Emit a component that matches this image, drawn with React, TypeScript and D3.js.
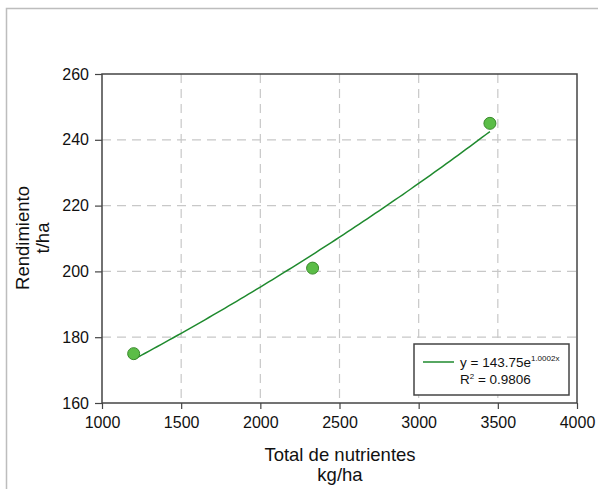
import React, { useEffect, useRef } from "react";
import * as d3 from "d3";

const nutrientes = [1200, 2330, 3450];
const rendimiento = [175, 201, 245];
const xTicks = [1000, 1500, 2000, 2500, 3000, 3500, 4000];
const yTicks = [160, 180, 200, 220, 240, 260];

const W = 598;
const H = 489;

export default function App() {
  const ref = useRef<SVGSVGElement>(null);

  useEffect(() => {
    const svg = d3.select(ref.current);
    svg.selectAll("*").remove();

    const margin = { top: 74, right: 21, bottom: 86, left: 102 };
    const x = d3.scaleLinear().domain([1000, 4000]).range([margin.left, W - margin.right]);
    const y = d3.scaleLinear().domain([160, 260]).range([H - margin.bottom, margin.top]);
    const font = "'Liberation Sans', Arial, sans-serif";

    // outer frame
    svg.append("rect")
      .attr("x", 6.5).attr("y", 8.5)
      .attr("width", W + 20).attr("height", H + 20)
      .attr("fill", "none").attr("stroke", "#bdbdbd").attr("stroke-width", 1.5);

    // grid
    svg.append("g").selectAll("line")
      .data(xTicks.slice(1, -1))
      .enter().append("line")
      .attr("x1", d => x(d)).attr("x2", d => x(d))
      .attr("y1", y(260)).attr("y2", y(160))
      .attr("stroke", "#c8c8c8").attr("stroke-dasharray", "9,6").attr("stroke-width", 1.2);
    svg.append("g").selectAll("line")
      .data(yTicks.slice(1, -1))
      .enter().append("line")
      .attr("x1", x(1000)).attr("x2", x(4000))
      .attr("y1", d => y(d)).attr("y2", d => y(d))
      .attr("stroke", "#c8c8c8").attr("stroke-dasharray", "9,6").attr("stroke-width", 1.2);

    // axes
    const xAxis = svg.append("g")
      .attr("transform", `translate(0, ${y(160)})`)
      .call(d3.axisBottom(x).tickValues(xTicks).tickFormat(d3.format("d")).tickSizeOuter(0).tickSize(6).tickPadding(8));
    const yAxis = svg.append("g")
      .attr("transform", `translate(${x(1000)}, 0)`)
      .call(d3.axisLeft(y).tickValues(yTicks).tickSizeOuter(0).tickSize(7).tickPadding(6));
    [xAxis, yAxis].forEach(a => {
      a.select(".domain").remove();
      a.selectAll("line").attr("stroke", "#444").attr("stroke-width", 1.2);
      a.selectAll("text").attr("font-family", font).attr("font-size", 16).attr("fill", "#111");
    });

    // plot frame
    svg.append("rect")
      .attr("x", x(1000)).attr("y", y(260))
      .attr("width", x(4000) - x(1000)).attr("height", y(160) - y(260))
      .attr("fill", "none").attr("stroke", "#444").attr("stroke-width", 1.5);

    // exponential fit through the points
    const lx = nutrientes;
    const ly = rendimiento.map(v => Math.log(v));
    const mx = d3.mean(lx)!;
    const my = d3.mean(ly)!;
    const b = d3.sum(lx, (v, i) => (v - mx) * (ly[i] - my)) / d3.sum(lx, v => (v - mx) ** 2);
    const a = Math.exp(my - b * mx);
    const fitX = d3.range(nutrientes[0], nutrientes[2] + 1, 25);
    const line = d3.line<number>().x(d => x(d)).y(d => y(a * Math.exp(b * d)));
    svg.append("path")
      .attr("d", line(fitX))
      .attr("fill", "none").attr("stroke", "#1f8a2e").attr("stroke-width", 1.5);

    // points
    svg.append("g").selectAll("circle")
      .data(nutrientes)
      .enter().append("circle")
      .attr("cx", d => x(d))
      .attr("cy", (d, i) => y(rendimiento[i]))
      .attr("r", 6)
      .attr("fill", "#5bbd47").attr("stroke", "#3a8a2c").attr("stroke-width", 1);

    // legend
    const lg = svg.append("g").attr("transform", "translate(414, 344)");
    lg.append("rect").attr("width", 155).attr("height", 51)
      .attr("fill", "#fff").attr("stroke", "#444").attr("stroke-width", 1.5);
    lg.append("line").attr("x1", 9).attr("x2", 40).attr("y1", 18).attr("y2", 18)
      .attr("stroke", "#1f8a2e").attr("stroke-width", 1.5);
    const t1 = lg.append("text").attr("x", 46).attr("y", 23)
      .attr("font-family", font).attr("font-size", 13.5).attr("fill", "#111");
    t1.append("tspan").text("y = 143.75e");
    t1.append("tspan").attr("dy", -6).attr("font-size", 8).text("1.0002x");
    const t2 = lg.append("text").attr("x", 46).attr("y", 40)
      .attr("font-family", font).attr("font-size", 13.5).attr("fill", "#111");
    t2.append("tspan").text("R");
    t2.append("tspan").attr("dy", -5).attr("font-size", 8).text("2");
    t2.append("tspan").attr("dy", 5).text(" = 0.9806");

    // axis titles
    const xt = svg.append("text").attr("text-anchor", "middle")
      .attr("font-family", font).attr("font-size", 18.5).attr("fill", "#111");
    xt.append("tspan").attr("x", 340).attr("y", 461).text("Total de nutrientes");
    xt.append("tspan").attr("x", 340).attr("y", 481).text("kg/ha");

    const yt = svg.append("text").attr("text-anchor", "middle")
      .attr("transform", "translate(29, 238) rotate(-90)")
      .attr("font-family", font).attr("font-size", 18.5).attr("fill", "#111");
    yt.append("tspan").attr("x", 0).attr("y", 0).text("Rendimiento");
    yt.append("tspan").attr("x", 0).attr("y", 20).text("t/ha");
  }, []);

  return (
    <svg ref={ref} width={W} height={H}
      style={{ position: "absolute", left: 0, top: 0, background: "#fff" }} />
  );
}
